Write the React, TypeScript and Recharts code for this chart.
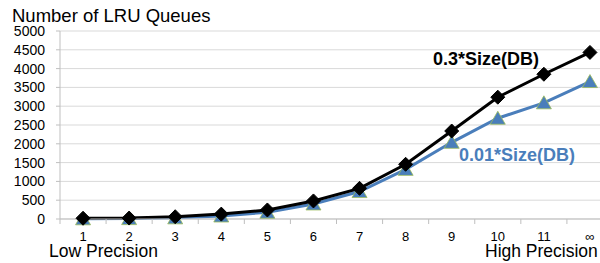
import React from "react";
import { LineChart, Line, XAxis, YAxis, CartesianGrid } from "recharts";

const categories = ["1", "2", "3", "4", "5", "6", "7", "8", "9", "10", "11", "∞"];
const size03 = [20, 25, 60, 130, 240, 480, 815, 1455, 2340, 3240, 3850, 4430];
const size001 = [5, 10, 30, 80, 180, 400, 730, 1320, 2040, 2680, 3090, 3655];
const yTicks = [0, 500, 1000, 1500, 2000, 2500, 3000, 3500, 4000, 4500, 5000];
const seriesLabels = ["0.3*Size(DB)", "0.01*Size(DB)"];
const title = "Number of LRU Queues";
const lowLabel = "Low Precision";
const highLabel = "High Precision";

const data = categories.map((c, i) => ({
  x: i + 1,
  name: c,
  a: size03[i],
  b: size001[i],
}));

const xTicks: number[] = [];
for (let i = 0; i <= categories.length; i++) {
  xTicks.push(i + 0.5);
  if (i < categories.length) xTicks.push(i + 1);
}
xTicks.sort((p, q) => p - q);

const FONT = "'Liberation Sans', Arial, sans-serif";
const BLUE = "#4a7ebb";

const XTick = (props: any) => {
  const { x, y, payload } = props;
  const v = payload.value;
  if (Number.isInteger(v)) {
    return (
      <text x={x} y={y + 21.5} textAnchor="middle" fontSize={13} fontFamily={FONT} fill="#000">
        {categories[v - 1]}
      </text>
    );
  }
  return <line x1={x} x2={x} y1={y} y2={y + 5} stroke="#bfbfbf" strokeWidth={1} />;
};

const Diamond = (props: any) => {
  const { cx, cy, index } = props;
  if (cx == null || cy == null) return <g key={index} />;
  const r = 7;
  return (
    <polygon
      key={index}
      points={`${cx},${cy - r} ${cx + r},${cy} ${cx},${cy + r} ${cx - r},${cy}`}
      fill="#000"
      stroke="#000"
    />
  );
};

const Triangle = (props: any) => {
  const { cx, cy, index } = props;
  if (cx == null || cy == null) return <g key={index} />;
  return (
    <polygon
      key={index}
      points={`${cx},${cy - 7} ${cx + 7.5},${cy + 6} ${cx - 7.5},${cy + 6}`}
      fill={BLUE}
      stroke="#9bbb59"
      strokeWidth={0.8}
    />
  );
};

export default function App() {
  return (
    <div
      style={{
        position: "absolute",
        left: 0,
        top: 0,
        width: 600,
        height: 263,
        overflow: "hidden",
        background: "#fff",
      }}
    >
      <LineChart
        width={640}
        height={263}
        data={data}
        margin={{ top: 31, right: 27, bottom: 0, left: 0 }}
      >
        <CartesianGrid vertical={false} stroke="#d9d9d9" />
        <XAxis
          dataKey="x"
          type="number"
          domain={[0.5, 12.5]}
          ticks={xTicks}
          interval={0}
          tickLine={false}
          tickSize={0}
          tickMargin={0}
          height={44}
          axisLine={{ stroke: "#bfbfbf" }}
          tick={<XTick />}
          allowDataOverflow
        />
        <YAxis
          type="number"
          domain={[0, 5000]}
          ticks={yTicks}
          interval={0}
          width={60}
          tickSize={4}
          tickMargin={11}
          tickLine={{ stroke: "#bfbfbf" }}
          axisLine={{ stroke: "#bfbfbf" }}
          tick={{ fontSize: 14, fontFamily: FONT, fill: "#000" }}
        />
        <Line
          dataKey="b"
          stroke={BLUE}
          strokeWidth={3}
          dot={Triangle}
          isAnimationActive={false}
        />
        <Line
          dataKey="a"
          stroke="#000"
          strokeWidth={3}
          dot={Diamond}
          isAnimationActive={false}
        />
      </LineChart>
      <svg
        width={600}
        height={263}
        style={{ position: "absolute", left: 0, top: 0, pointerEvents: "none" }}
      >
        <text x={12} y={22} fontSize={18.5} fontFamily={FONT} fill="#000">
          {title}
        </text>
        <text x={433} y={65} fontSize={18} fontWeight="bold" fontFamily={FONT} fill="#000">
          {seriesLabels[0]}
        </text>
        <text x={459} y={161} fontSize={18} fontWeight="bold" fontFamily={FONT} fill={BLUE}>
          {seriesLabels[1]}
        </text>
        <text x={49} y={257} fontSize={17.5} fontFamily={FONT} fill="#000">
          {lowLabel}
        </text>
        <text x={485} y={257} fontSize={17.5} fontFamily={FONT} fill="#000">
          {highLabel}
        </text>
      </svg>
    </div>
  );
}
